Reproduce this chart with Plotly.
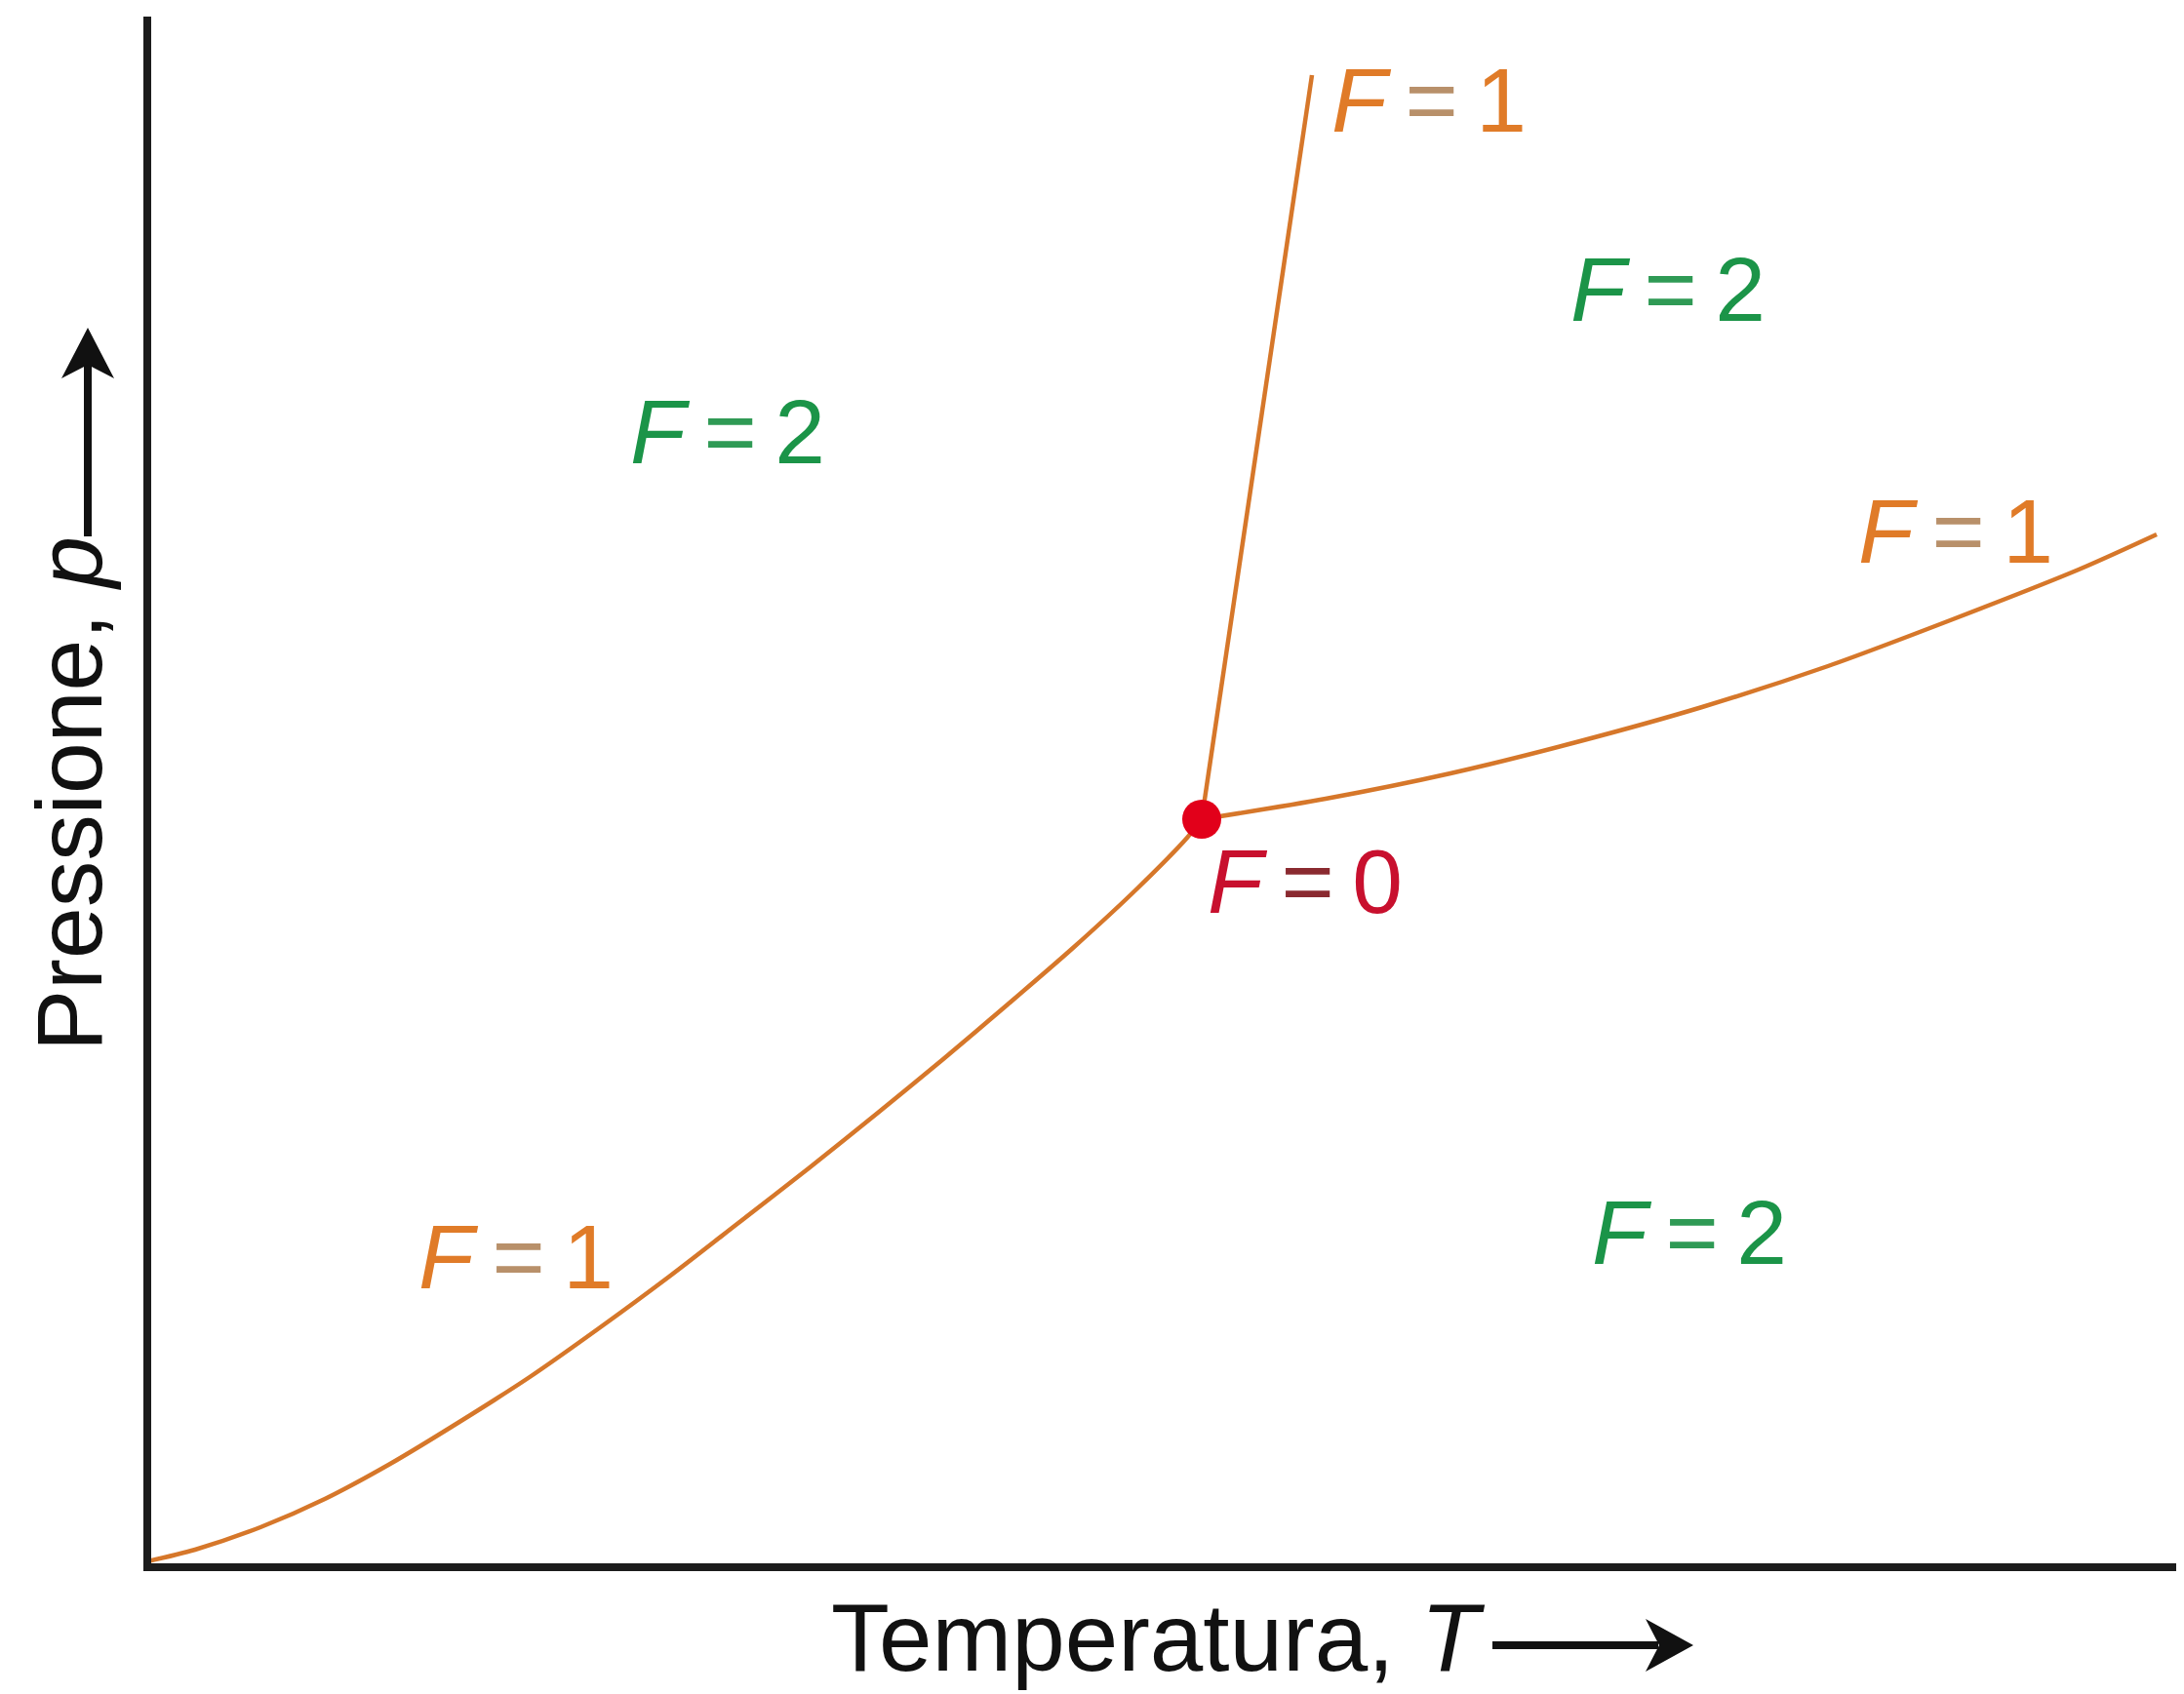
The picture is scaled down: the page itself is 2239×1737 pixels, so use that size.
import plotly.graph_objects as go

# the page body has an 8 px margin, so the figure is drawn 8 px smaller
W, H = 2239, 1737
OFF = 8
# plot area in page pixels
X0, X1, Y0, Y1 = 151, 2235, 17, 1607

# phase boundaries, arbitrary T / p units
subl_T = [0, 49, 116, 182, 249, 320, 392, 463, 535, 606, 678, 749, 816, 882, 949, 1016, 1066, 1081]
subl_p = [6, 18, 41, 70, 106, 149, 195, 245, 298, 353, 409, 466, 521, 577, 635, 697, 748, 767]
fus_T = [1081, 1194]
fus_p = [767, 1530]
vap_T = [1081, 1208, 1336, 1465, 1594, 1723, 1851, 1980, 2060]
vap_p = [767, 788, 814, 846, 882, 924, 972, 1023, 1059]
triple_T = [1081]
triple_p = [767]

# degrees of freedom labels
lab_T = [1314, 595, 1559, 1854, 1187, 378, 1581]
lab_p = [1504, 1164, 1310, 1062, 703, 318, 343]
lab_F = ["1", "2", "2", "1", "0", "1", "2"]
lab_kind = ["one", "two", "two", "one", "zero", "one", "two"]

LINE = "#d6772a"
AXIS = "#1c1c1c"
INK = "#111111"
STYLE = {
    "one": ("#e07b28", "#b8906a"),
    "two": ("#1b9448", "#2f9a55"),
    "zero": ("#c8102e", "#8a2a30"),
}
FONT = "Liberation Sans, Arial, sans-serif"


def px(x):
    return (x - X0) / (X1 - X0)


def py(y):
    return (Y1 - y) / (Y1 - Y0)


fig = go.Figure()
for xs, ys in [(subl_T, subl_p), (fus_T, fus_p), (vap_T, vap_p)]:
    fig.add_trace(go.Scatter(
        x=xs, y=ys, mode="lines",
        line=dict(color=LINE, width=4.5, shape="spline", smoothing=0.8),
        hoverinfo="skip", showlegend=False,
    ))
fig.add_trace(go.Scatter(
    x=triple_T, y=triple_p, mode="markers",
    marker=dict(color="#e2001a", size=40, line=dict(width=0)),
    showlegend=False,
))

for t, p, f, k in zip(lab_T, lab_p, lab_F, lab_kind):
    col, eq = STYLE[k]
    fig.add_annotation(
        x=t, y=p, xref="x", yref="y", showarrow=False,
        text=f"<i>F</i>\u2009<span style='color:{eq}'>=</span>\u2009{f}",
        font=dict(family=FONT, size=93, color=col),
        xanchor="center", yanchor="middle",
    )

# axis titles
fig.add_annotation(
    x=px(71), y=py(814), xref="paper", yref="paper", showarrow=False,
    text="Pressione, <i>p</i>", textangle=-90,
    font=dict(family=FONT, size=95, color=INK),
    xanchor="center", yanchor="middle",
)
fig.add_annotation(
    x=px(850), y=py(1679), xref="paper", yref="paper", showarrow=False,
    text="Temperatura, <i>T</i>",
    font=dict(family=FONT, size=98, color=INK),
    xanchor="left", yanchor="middle",
)

# axis lines
fig.add_shape(type="line", xref="paper", yref="paper",
              x0=px(151), x1=px(151), y0=py(17), y1=py(1611),
              line=dict(color=AXIS, width=8))
fig.add_shape(type="line", xref="paper", yref="paper",
              x0=px(147), x1=px(2235), y0=py(1607), y1=py(1607),
              line=dict(color=AXIS, width=8))

# arrows next to the axis titles
fig.add_shape(type="line", xref="paper", yref="paper",
              x0=px(90), x1=px(90), y0=py(550), y1=py(374),
              line=dict(color=INK, width=8))
fig.add_shape(type="path", xref="paper", yref="paper",
              path=(f"M {px(90)} {py(336)} L {px(63)} {py(388)} L {px(90)} {py(374)} "
                    f"L {px(117)} {py(388)} Z"),
              fillcolor=INK, line=dict(width=0))
fig.add_shape(type="line", xref="paper", yref="paper",
              x0=px(1530), x1=px(1700), y0=py(1687), y1=py(1687),
              line=dict(color=INK, width=8))
fig.add_shape(type="path", xref="paper", yref="paper",
              path=(f"M {px(1736)} {py(1687)} L {px(1687)} {py(1660)} L {px(1701)} {py(1687)} "
                    f"L {px(1687)} {py(1714)} Z"),
              fillcolor=INK, line=dict(width=0))

axis_common = dict(showgrid=False, zeroline=False, showticklabels=False, ticks="",
                   showline=False, fixedrange=True)
fig.update_layout(
    width=W - OFF, height=H - OFF,
    margin=dict(l=X0 - OFF, r=W - X1, t=Y0 - OFF, b=H - Y1),
    paper_bgcolor="white", plot_bgcolor="white",
    xaxis=dict(range=[0, X1 - X0], **axis_common),
    yaxis=dict(range=[0, Y1 - Y0], **axis_common),
    showlegend=False,
)
fig.write_html("out.html")
